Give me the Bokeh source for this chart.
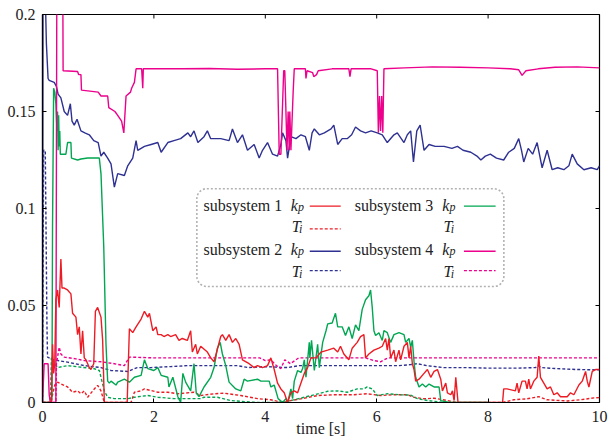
from bokeh.plotting import figure
from bokeh.models import FixedTicker, BoxAnnotation, Label, Arrow, Range1d
from bokeh.embed import file_html
from bokeh.resources import INLINE

# ---------------- data (time [s], value) ----------------
red_kp = [(0, 0), (0.16, 0), (0.18, 0.030), (0.20, 0.015), (0.22, 0.020), (0.24, 0.053), (0.27, 0.058),
          (0.30, 0.049), (0.33, 0.074), (0.35, 0.059), (0.39, 0.059), (0.45, 0.058), (0.51, 0.056),
          (0.54, 0.046), (0.60, 0.044), (0.63, 0.035), (0.66, 0.039), (0.69, 0.025), (0.72, 0.037),
          (0.75, 0.023), (0.78, 0.022), (0.84, 0.018), (0.87, 0.017), (0.92, 0.020), (0.95, 0.047),
          (0.99, 0.049), (1.05, 0.044), (1.08, 0.032), (1.11, 0), (1.52, 0), (1.56, 0.038), (1.62, 0.036),
          (1.68, 0.039), (1.77, 0.043), (1.83, 0.047), (1.89, 0.044), (1.92, 0.046), (1.98, 0.037),
          (2.04, 0.039), (2.07, 0.035), (2.13, 0.035), (2.18, 0.034), (2.25, 0.035), (2.30, 0.034),
          (2.39, 0.035), (2.45, 0.032), (2.51, 0.033), (2.60, 0.032), (2.66, 0.037), (2.69, 0.026),
          (2.75, 0.030), (2.78, 0.025), (2.84, 0.029), (2.96, 0.026), (3.02, 0.023), (3.08, 0.021),
          (3.20, 0.034), (3.23, 0.035), (3.29, 0.032), (3.35, 0.035), (3.41, 0.031), (3.47, 0.033),
          (3.53, 0.030), (3.59, 0.022), (3.71, 0.020), (3.80, 0.018), (3.86, 0.019), (3.95, 0.018),
          (4.04, 0.019), (4.10, 0.023), (4.16, 0.017), (4.22, 0.010), (4.28, 0.007), (4.34, 0.005),
          (4.40, 0), (4.46, 0.005), (4.52, 0.006), (4.58, 0.005), (4.64, 0.010), (4.70, 0.015),
          (4.76, 0.018), (4.82, 0.023), (4.91, 0.023), (5.00, 0.026), (5.12, 0.027), (5.23, 0.028),
          (5.30, 0.026), (5.35, 0.029), (5.41, 0.025), (5.50, 0.022), (5.56, 0.028), (5.65, 0.031),
          (5.71, 0.034), (5.77, 0.035), (5.80, 0.023), (5.86, 0.025), (5.95, 0.027), (6.04, 0.028),
          (6.10, 0.029), (6.16, 0.033), (6.19, 0.027), (6.22, 0.033), (6.25, 0.023), (6.31, 0.027),
          (6.34, 0.021), (6.40, 0.027), (6.43, 0.022), (6.49, 0.029), (6.55, 0.031), (6.58, 0.023),
          (6.61, 0.029), (6.64, 0.020), (6.67, 0.017), (6.70, 0.011), (6.76, 0.012), (6.85, 0.015),
          (6.91, 0.017), (6.97, 0.013), (7.03, 0.016), (7.09, 0.017), (7.15, 0.012), (7.18, 0.006),
          (7.24, 0.010), (7.27, 0.005), (7.33, 0.004), (7.36, 0.006), (7.39, 0.001), (7.42, 0.013),
          (7.46, 0), (8.26, 0), (8.28, 0.007), (8.34, 0.007), (8.49, 0.006), (8.52, 0.010), (8.55, 0.005),
          (8.61, 0.011), (8.67, 0.011), (8.70, 0.007), (8.73, 0.012), (8.76, 0.007), (8.82, 0.011),
          (8.88, 0.013), (8.91, 0.024), (8.94, 0.013), (9.00, 0.010), (9.06, 0.007), (9.12, 0.008),
          (9.18, 0.004), (9.24, 0.005), (9.30, 0.003), (9.42, 0.003), (9.48, 0.005), (9.54, 0.004),
          (9.63, 0.009), (9.69, 0.011), (9.75, 0.016), (9.78, 0.011), (9.81, 0.008), (9.87, 0.016),
          (9.93, 0.017), (10.0, 0.017)]

blue_kp = [(0, 0), (0.01, 0.25), (0.05, 0.21), (0.07, 0.185), (0.10, 0.167), (0.12, 0.166), (0.21, 0.165),
           (0.25, 0.163), (0.28, 0.159), (0.33, 0.157), (0.39, 0.150), (0.45, 0.148), (0.50, 0.154),
           (0.53, 0.145), (0.57, 0.143), (0.62, 0.146), (0.69, 0.140), (0.76, 0.139), (0.84, 0.138),
           (0.92, 0.135), (1.00, 0.134), (1.05, 0.127), (1.10, 0.129), (1.17, 0.126), (1.23, 0.123),
           (1.29, 0.111), (1.35, 0.118), (1.47, 0.117), (1.53, 0.122), (1.62, 0.126), (1.68, 0.135),
           (1.71, 0.130), (1.83, 0.132), (1.95, 0.133), (2.07, 0.134), (2.13, 0.129), (2.25, 0.134),
           (2.36, 0.135), (2.48, 0.136), (2.61, 0.139), (2.66, 0.137), (2.72, 0.140), (2.79, 0.134),
           (2.90, 0.137), (2.96, 0.140), (3.02, 0.136), (3.20, 0.136), (3.35, 0.135), (3.41, 0.141),
           (3.50, 0.134), (3.59, 0.138), (3.68, 0.130), (3.80, 0.133), (3.89, 0.126), (3.95, 0.130),
           (4.04, 0.134), (4.13, 0.128), (4.22, 0.127), (4.28, 0.133), (4.31, 0.139), (4.37, 0.135),
           (4.40, 0.126), (4.46, 0.137), (4.55, 0.136), (4.64, 0.138), (4.72, 0.137), (4.79, 0.130),
           (4.84, 0.139), (4.88, 0.141), (4.97, 0.138), (5.06, 0.139), (5.18, 0.141), (5.23, 0.143),
           (5.30, 0.133), (5.38, 0.136), (5.47, 0.136), (5.55, 0.138), (5.62, 0.142), (5.71, 0.140),
           (5.80, 0.139), (5.90, 0.140), (6.01, 0.139), (6.10, 0.138), (6.19, 0.134), (6.31, 0.138),
           (6.37, 0.139), (6.49, 0.134), (6.55, 0.138), (6.61, 0.140), (6.66, 0.124), (6.72, 0.140),
           (6.78, 0.143), (6.85, 0.130), (6.94, 0.133), (7.05, 0.132), (7.21, 0.132), (7.35, 0.131),
           (7.45, 0.132), (7.55, 0.130), (7.69, 0.129), (7.80, 0.127), (7.87, 0.125), (7.95, 0.127),
           (8.04, 0.128), (8.15, 0.126), (8.28, 0.125), (8.37, 0.129), (8.47, 0.131), (8.55, 0.136),
           (8.60, 0.130), (8.64, 0.124), (8.72, 0.131), (8.80, 0.128), (8.88, 0.134), (8.97, 0.121),
           (9.06, 0.130), (9.15, 0.120), (9.25, 0.121), (9.36, 0.120), (9.45, 0.122), (9.51, 0.128),
           (9.60, 0.123), (9.72, 0.120), (9.85, 0.121), (9.96, 0.120), (10.0, 0.122)]

green_kp = [(0, 0), (0.15, 0), (0.17, 0.003), (0.18, 0.090), (0.20, 0.162), (0.22, 0.160), (0.24, 0.154),
            (0.26, 0.140), (0.27, 0.150), (0.28, 0.130), (0.29, 0.148), (0.30, 0.132), (0.31, 0.140),
            (0.32, 0.128), (0.42, 0.128), (0.45, 0.134), (0.51, 0.134), (0.52, 0.126), (0.63, 0.125),
            (0.69, 0.1255), (0.81, 0.126), (1.02, 0.126), (1.05, 0.118), (1.10, 0.080), (1.14, 0.030),
            (1.17, 0.011), (1.20, 0.010), (1.23, 0.011), (1.32, 0.009), (1.35, 0.0105), (1.47, 0.012),
            (1.56, 0.0105), (1.65, 0.013), (1.77, 0.014), (1.83, 0.022), (1.89, 0.0175), (2.00, 0.0165),
            (2.07, 0.018), (2.13, 0.014), (2.25, 0.013), (2.27, 0.008), (2.34, 0.013), (2.43, 0.003),
            (2.48, 0), (2.52, 0.015), (2.57, 0.0105), (2.66, 0.006), (2.72, 0.020), (2.76, 0.005),
            (2.81, 0.003), (2.90, 0.008), (3.02, 0.013), (3.08, 0.018), (3.14, 0.028), (3.19, 0.031),
            (3.23, 0.025), (3.29, 0.019), (3.35, 0.0105), (3.47, 0.007), (3.56, 0.006), (3.62, 0.012),
            (3.68, 0.011), (3.86, 0.012), (3.92, 0.011), (4.07, 0.011), (4.10, 0.008), (4.16, 0.009),
            (4.23, 0.002), (4.31, 0), (4.37, 0.002), (4.40, 0), (4.46, 0.007), (4.49, 0.002), (4.52, 0.011),
            (4.58, 0.0165), (4.64, 0.0155), (4.67, 0.0175), (4.70, 0.022), (4.73, 0.013), (4.79, 0.031),
            (4.80, 0.023), (4.83, 0.032), (4.88, 0.0165), (4.94, 0.030), (4.97, 0.018), (5.03, 0.031),
            (5.09, 0.037), (5.12, 0.0405), (5.20, 0.041), (5.26, 0.046), (5.30, 0.039), (5.38, 0.039),
            (5.44, 0.0345), (5.50, 0.039), (5.56, 0.033), (5.62, 0.040), (5.68, 0.037), (5.74, 0.048),
            (5.80, 0.053), (5.86, 0.055), (5.89, 0.058), (5.92, 0.049), (5.95, 0.037), (5.98, 0.0345),
            (6.04, 0.036), (6.10, 0.032), (6.13, 0.037), (6.19, 0.036), (6.25, 0.031), (6.31, 0.035),
            (6.40, 0.036), (6.49, 0.035), (6.52, 0.031), (6.58, 0.033), (6.61, 0.0285), (6.64, 0.032),
            (6.67, 0.021), (6.70, 0.013), (6.76, 0.008), (6.82, 0.0095), (6.88, 0.008), (6.94, 0.0095),
            (7.03, 0.008), (7.12, 0.008), (7.15, 0.001), (7.30, 0), (8.00, 0)]

magenta_kp = [(0, 0), (0.03, 0.020), (0.10, 0.020), (0.12, 0.004), (0.14, 0), (0.24, 0), (0.26, 0.25),
              (0.36, 0.25), (0.37, 0.171), (0.63, 0.1706), (0.65, 0.169), (0.69, 0.169), (0.70, 0.161),
              (1.00, 0.160), (1.05, 0.158), (1.17, 0.158), (1.19, 0.152), (1.30, 0.150), (1.35, 0.148),
              (1.42, 0.145), (1.46, 0.139), (1.50, 0.158), (1.58, 0.160), (1.60, 0.162), (1.65, 0.165),
              (1.68, 0.172), (1.78, 0.172), (1.80, 0.162), (1.81, 0.172), (2.50, 0.172), (3.00, 0.1722),
              (3.50, 0.1718), (4.00, 0.172), (4.22, 0.172), (4.25, 0.128), (4.28, 0.128), (4.33, 0.171),
              (4.35, 0.171), (4.39, 0.130), (4.41, 0.150), (4.43, 0.130), (4.44, 0.150), (4.46, 0.130),
              (4.50, 0.160), (4.52, 0.172), (4.72, 0.172), (4.73, 0.167), (4.75, 0.171), (4.85, 0.170),
              (4.87, 0.168), (4.92, 0.169), (4.95, 0.171), (5.20, 0.172), (5.50, 0.172), (5.52, 0.168),
              (5.54, 0.172), (5.90, 0.172), (6.01, 0.171), (6.03, 0.139), (6.05, 0.158), (6.07, 0.140),
              (6.09, 0.158), (6.11, 0.139), (6.13, 0.172), (6.50, 0.1725), (7.00, 0.173), (7.50, 0.1728),
              (8.00, 0.1725), (8.40, 0.172), (8.55, 0.1715), (8.61, 0.1686), (8.68, 0.171), (8.90, 0.172),
              (9.20, 0.1728), (9.60, 0.173), (10.0, 0.1725)]

red_ti = [(0, 0), (0.16, 0), (0.18, 0.004), (0.22, 0.009), (0.27, 0.0105), (0.33, 0.0096), (0.45, 0.008),
          (0.54, 0.0053), (0.63, 0.006), (0.69, 0.0045), (0.75, 0.006), (0.81, 0.0027), (0.93, 0.007),
          (0.99, 0.0088), (1.05, 0.006), (1.11, 0), (1.59, 0), (1.65, 0.0053), (1.77, 0.006), (1.83, 0.007),
          (2.07, 0.0053), (2.25, 0.0053), (2.43, 0.0045), (2.72, 0.0053), (2.84, 0.0036), (3.08, 0.0045),
          (3.26, 0.0048), (3.56, 0.0036), (3.86, 0.002), (4.10, 0.0014), (4.31, 0), (4.46, 0.001),
          (4.70, 0.0022), (4.94, 0.0036), (5.23, 0.004), (5.59, 0.004), (5.83, 0.0045), (6.07, 0.0036),
          (6.31, 0.004), (6.55, 0.004), (6.67, 0.0027), (6.85, 0.0019), (7.03, 0.0022), (7.27, 0.001),
          (7.45, 0), (8.26, 0), (8.46, 0.0014), (8.70, 0.0019), (8.91, 0.003), (9.06, 0.0014),
          (9.42, 0.0008), (9.66, 0.0014), (9.90, 0.0024), (10.0, 0.0025)]

blue_ti = [(0, 0), (0.02, 0.130), (0.05, 0.130), (0.08, 0.040), (0.09, 0.0234), (0.20, 0.022),
           (0.45, 0.0208), (0.75, 0.019), (1.05, 0.018), (1.23, 0.0165), (1.53, 0.016), (1.70, 0.018),
           (1.95, 0.018), (2.30, 0.0185), (2.60, 0.019), (3.00, 0.019), (3.50, 0.019), (3.70, 0.018),
           (4.00, 0.0185), (4.40, 0.018), (4.60, 0.019), (5.00, 0.019), (5.50, 0.019), (6.00, 0.019),
           (6.40, 0.019), (6.60, 0.0195), (6.73, 0.020), (6.90, 0.019), (7.20, 0.018), (7.60, 0.018),
           (8.00, 0.0177), (8.50, 0.0177), (8.85, 0.018), (8.90, 0.019), (8.95, 0.018), (9.20, 0.0175),
           (9.60, 0.017), (10.0, 0.0168)]

green_ti = [(0, 0), (0.14, 0), (0.16, 0.023), (0.20, 0.021), (0.27, 0.018), (0.45, 0.019), (0.93, 0.0174),
            (1.02, 0.0165), (1.11, 0.006), (1.17, 0.0027), (1.29, 0.002), (1.53, 0.002), (1.65, 0.0027),
            (1.89, 0.0036), (2.07, 0.0027), (2.36, 0.002), (2.84, 0.002), (2.90, 0.0027), (3.14, 0.0027),
            (3.38, 0.001), (3.86, 0), (4.22, 0), (4.46, 0.001), (4.70, 0.0027), (4.88, 0.004),
            (5.12, 0.0058), (5.30, 0.006), (5.47, 0.0053), (5.65, 0.007), (5.77, 0.007), (5.83, 0.008),
            (5.92, 0.007), (6.01, 0.0036), (6.19, 0.0045), (6.43, 0.004), (6.61, 0.0038), (6.73, 0.002),
            (6.91, 0.001), (7.20, 0), (8.00, 0)]

magenta_ti = [(0, 0), (0.24, 0), (0.25, 0.020), (0.30, 0.0285), (0.33, 0.025), (0.39, 0.0234), (0.60, 0.0225),
              (0.75, 0.0216), (1.05, 0.021), (1.29, 0.020), (1.47, 0.019), (1.56, 0.0234), (2.00, 0.023),
              (3.00, 0.023), (3.90, 0.023), (4.00, 0.0216), (4.10, 0.022), (4.20, 0.019), (4.28, 0.0175),
              (4.35, 0.022), (4.45, 0.020), (4.60, 0.023), (5.00, 0.023), (5.80, 0.023), (5.95, 0.0216),
              (6.07, 0.021), (6.20, 0.023), (7.00, 0.023), (8.00, 0.023), (9.00, 0.023), (10.0, 0.023)]

x_ticks = [0, 2, 4, 6, 8, 10]
y_ticks = [0, 0.05, 0.1, 0.15, 0.2]
y_tick_labels = ["0", "0.05", "0.1", "0.15", "0.2"]

subsystems = ["subsystem 1", "subsystem 2", "subsystem 3", "subsystem 4"]
colors = ["#ED1C24", "#2E3192", "#00A651", "#EC008C"]

FONT = "'Liberation Serif', 'DejaVu Serif', serif"
TXT = "#222222"

# ---------------- figure ----------------
p = figure(width=610, height=441, output_backend="svg", toolbar_location=None,
           x_range=Range1d(0, 10), y_range=Range1d(0, 0.2),
           min_border_left=42, min_border_right=11, min_border_top=14, min_border_bottom=39)
p.grid.visible = False
p.outline_line_color = "black"
p.outline_line_width = 1.2
p.background_fill_color = "white"
p.border_fill_color = "white"

xa = p.xaxis[0]
ya = p.yaxis[0]
xa.ticker = FixedTicker(ticks=x_ticks)
ya.ticker = FixedTicker(ticks=y_ticks)
ya.major_label_overrides = {t: s for t, s in zip(y_ticks, y_tick_labels)}
xa.axis_label = "time [s]"
for ax in (xa, ya):
    ax.major_tick_in = 4
    ax.major_tick_out = 0
    ax.minor_tick_line_color = None
    ax.axis_line_color = "black"
    ax.axis_line_width = 1.2
    ax.major_tick_line_color = "black"
    ax.major_label_text_font = FONT
    ax.major_label_text_font_size = "16px"
    ax.major_label_text_color = TXT
    ax.axis_label_text_font = FONT
    ax.axis_label_text_font_size = "16px"
    ax.axis_label_text_font_style = "normal"
    ax.axis_label_text_color = TXT
xa.major_label_standoff = 8
xa.axis_label_standoff = -5
ya.major_label_standoff = 7

# inward ticks on the top and right frame edges, at the same tick values
tick_dy = 0.2 * 4 / 388
tick_dx = 10 * 4 / 557
p.segment(x0=x_ticks, y0=[0.2] * len(x_ticks), x1=x_ticks, y1=[0.2 - tick_dy] * len(x_ticks),
          line_color="black", line_width=1)
p.segment(x0=[10] * len(y_ticks), y0=y_ticks, x1=[10 - tick_dx] * len(y_ticks), y1=y_ticks,
          line_color="black", line_width=1)

# ---------------- series ----------------
ti_series = [red_ti, blue_ti, green_ti, magenta_ti]
kp_series = [red_kp, blue_kp, green_kp, magenta_kp]
for ser, col in zip(ti_series, colors):
    p.line([a for a, b in ser], [b for a, b in ser], line_color=col, line_width=1.4, line_dash="3 2")
for idx in (2, 1, 3, 0):
    ser = kp_series[idx]
    p.line([a for a, b in ser], [b for a, b in ser], line_color=colors[idx], line_width=1.4)

# ---------------- legend (hand-built) ----------------
p.add_layout(BoxAnnotation(left=2.771, right=8.283, top=0.1102, bottom=0.0598,
                           fill_color="white", fill_alpha=1.0, line_color="black",
                           line_width=1.6, line_dash="2 2", border_radius=10))

col_text_x = [2.891, 5.605]
col_sym_x = [4.457, 7.178]
col_line_x = [(4.798, 5.354), (7.566, 8.135)]
row_base = [0.1018, 0.0791]      # baseline of "subsystem n" / k_p row
ti_base = [0.0906, 0.0674]       # baseline of T_i row
kp_line_y = [0.1012, 0.0780]
ti_line_y = [0.0895, 0.0680]
show_ti_sample = [True, True, False, True]

def add_text(x, y, text, size="16px", style="normal"):
    p.add_layout(Label(x=x, y=y, text=text, text_font=FONT, text_font_size=size,
                       text_font_style=style, text_color=TXT,
                       text_align="left", text_baseline="alphabetic"))

for i, (name, col) in enumerate(zip(subsystems, colors)):
    c = i // 2
    r = i % 2
    add_text(col_text_x[c], row_base[r], name)
    sx = col_sym_x[c]
    add_text(sx, row_base[r], "k", style="italic")
    add_text(sx + 0.13, row_base[r] - 0.0012, "p", size="12px", style="italic")
    add_text(sx + 0.02, ti_base[r], "T", style="italic")
    add_text(sx + 0.15, ti_base[r] - 0.0012, "i", size="12px", style="italic")
    x0, x1 = col_line_x[c]
    p.add_layout(Arrow(x_start=x0, y_start=kp_line_y[r], x_end=x1, y_end=kp_line_y[r],
                       end=None, line_color=col, line_width=1.4))
    if show_ti_sample[i]:
        p.add_layout(Arrow(x_start=x0, y_start=ti_line_y[r], x_end=x1, y_end=ti_line_y[r],
                           end=None, line_color=col, line_width=1.4, line_dash="3 2"))

open("out.html", "w").write(file_html(p, INLINE))
